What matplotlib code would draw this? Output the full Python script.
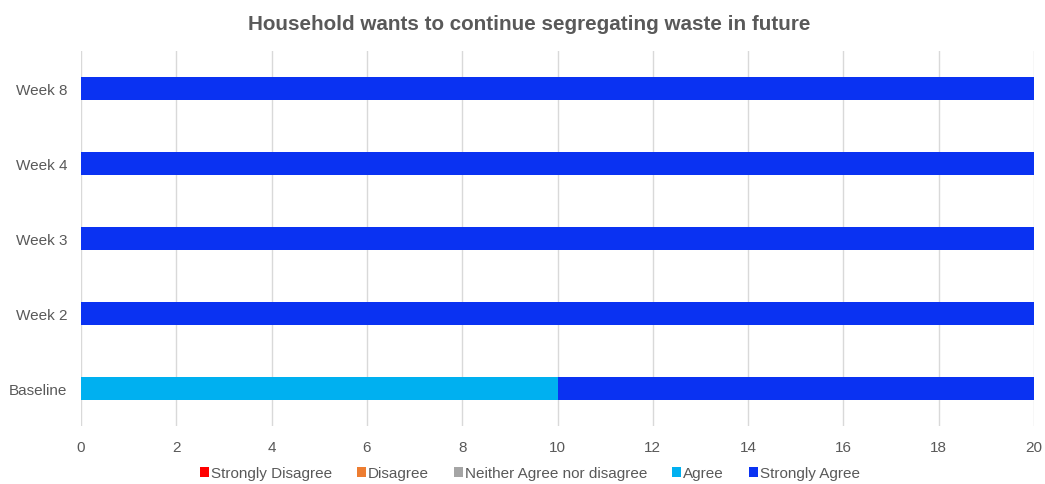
import matplotlib
matplotlib.use("Agg")
import matplotlib.pyplot as plt
import numpy as np

plt.rcParams['font.family'] = ['Liberation Sans', 'DejaVu Sans']

categories = ["Baseline", "Week 2", "Week 3", "Week 4", "Week 8"]
series_names = ["Strongly Disagree", "Disagree", "Neither Agree nor disagree",
                "Agree", "Strongly Agree"]
strongly_disagree = [0, 0, 0, 0, 0]
disagree = [0, 0, 0, 0, 0]
neither = [0, 0, 0, 0, 0]
agree = [10, 0, 0, 0, 0]
strongly_agree = [10, 20, 20, 20, 20]
colors = ["#FF0000", "#ED7D31", "#A5A5A5", "#00B0F0", "#0A32F2"]
xticks = [0, 2, 4, 6, 8, 10, 12, 14, 16, 18, 20]

fig = plt.figure(figsize=(10.45, 4.85), dpi=100)
ax = fig.add_axes([0.0775, 0.1196, 0.912, 0.7732])

y = np.arange(len(categories))
left = np.zeros(len(categories))
for name, vals, col in zip(series_names,
                           [strongly_disagree, disagree, neither, agree, strongly_agree],
                           colors):
    vals = np.array(vals, dtype=float)
    ax.barh(y, vals, left=left, height=0.31, color=col, label=name, zorder=3)
    left += vals

ax.set_xlim(0, 20)
ax.set_ylim(-0.5, len(categories) - 0.5)
ax.set_xticks(xticks)
ax.set_yticks(y)
ax.set_yticklabels(categories)
ax.grid(axis='x', color='#D9D9D9', linewidth=1, zorder=0)
for s in ax.spines.values():
    s.set_visible(False)
ax.tick_params(axis='both', length=0, labelsize=11, colors='#595959')
ax.tick_params(axis='x', pad=10)
ax.tick_params(axis='y', pad=10)

fig.suptitle("Household wants to continue segregating waste in future",
             x=0.506, y=0.97, fontsize=14.9, fontweight='bold', color='#595959')

handles, labels = ax.get_legend_handles_labels()
leg = fig.legend(handles, labels, loc='center', bbox_to_anchor=(0.507, 0.022),
                 ncol=5, frameon=False, fontsize=11, handlelength=0.6,
                 handleheight=0.6, handletextpad=0.15, columnspacing=1.6,
                 labelcolor='#595959')

fig.savefig("out.png", dpi=100)
